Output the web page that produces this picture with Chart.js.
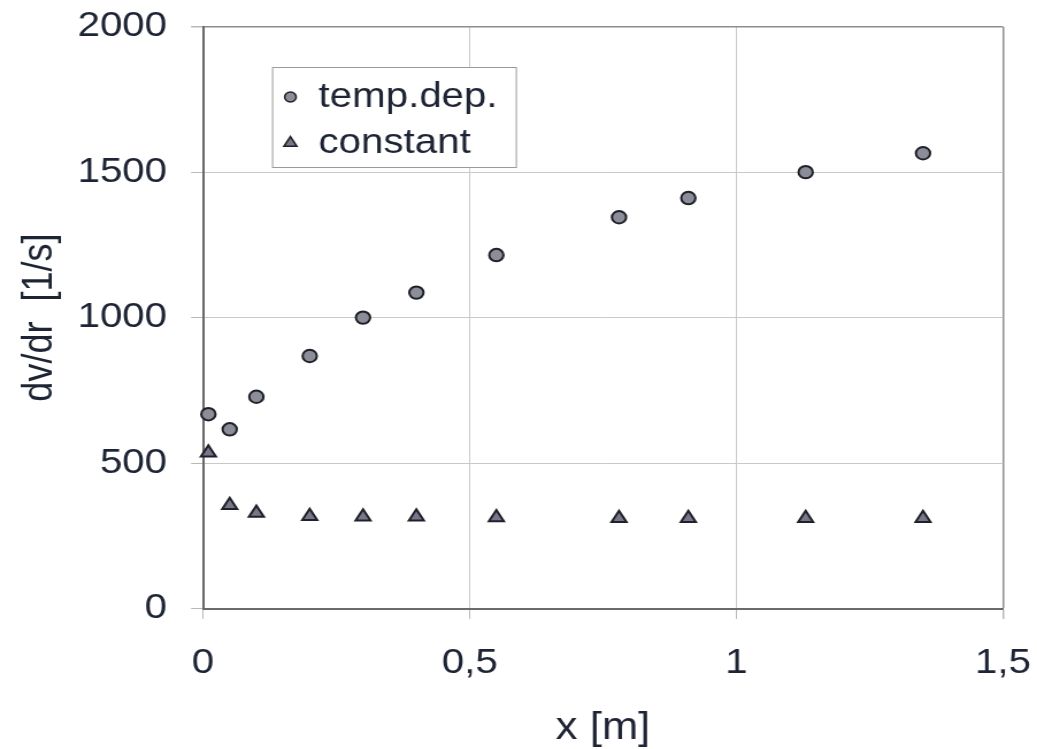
<!DOCTYPE html>
<html>
<head>
<meta charset="utf-8">
<script src="https://cdn.jsdelivr.net/npm/chart.js@4/dist/chart.umd.min.js"></script>
<style>
  html, body { margin: 0; padding: 0; background: #ffffff; overflow: hidden; }
  /* the figure is drawn on a narrower canvas and widened horizontally */
  #wrap { width: 902px; height: 749px; transform: scaleX(1.1497); transform-origin: 0 0; }
  canvas { display: block; }
</style>
</head>
<body>
<div id="wrap"><canvas id="chart" width="902" height="749"></canvas></div>
<script>
// distance along the pipe [m]
const xPositions = [0.01, 0.05, 0.1, 0.2, 0.3, 0.4, 0.55, 0.78, 0.91, 1.13, 1.35];
// shear rate dv/dr [1/s], temperature-dependent viscosity
const tempDep = [668, 616, 728, 868, 1000, 1086, 1215, 1345, 1411, 1500, 1565];
// shear rate dv/dr [1/s], constant viscosity
const constant = [535, 355, 328, 317, 315, 315, 313, 310, 310, 310, 310];
const seriesNames = ['temp.dep.', 'constant'];
const xTicks = [0, 0.5, 1, 1.5];
const yTicks = [0, 500, 1000, 1500, 2000];

const FONT = '"Liberation Sans", Arial, Helvetica, sans-serif';
const TEXT = '#1d2433';
const GRID = '#c9c9c9';
const FRAME = '#8e8e8e';
const AXIS = '#6a6a6a';

const toPoints = ys => xPositions.map((x, i) => ({ x: x, y: ys[i] }));

// legend box drawn inside the plot area
const insetLegend = {
  id: 'insetLegend',
  afterDatasetsDraw(chart, args, o) {
    const { ctx, chartArea } = chart;
    const left = chartArea.left + o.offsetX;
    const top = chartArea.top + o.offsetY;
    ctx.save();
    ctx.fillStyle = '#ffffff';
    ctx.fillRect(left, top, o.width, o.height);
    ctx.strokeStyle = o.borderColor;
    ctx.lineWidth = 1;
    ctx.strokeRect(left + 0.5, top + 0.5, o.width, o.height);
    chart.data.datasets.forEach((ds, i) => {
      const cy = top + o.rowY[i];
      const mx = left + o.markerX;
      const r = o.markerRadius[i];
      ctx.beginPath();
      if (ds.pointStyle === 'triangle') {
        ctx.moveTo(mx, cy - r);
        ctx.lineTo(mx + r * Math.sin(2 * Math.PI / 3), cy - r * Math.cos(2 * Math.PI / 3));
        ctx.lineTo(mx + r * Math.sin(4 * Math.PI / 3), cy - r * Math.cos(4 * Math.PI / 3));
        ctx.closePath();
      } else {
        ctx.arc(mx, cy, r, 0, Math.PI * 2);
      }
      ctx.fillStyle = ds.backgroundColor;
      ctx.fill();
      ctx.lineWidth = 1.5;
      ctx.strokeStyle = ds.borderColor;
      ctx.stroke();
      ctx.fillStyle = TEXT;
      ctx.font = o.fontSize + 'px ' + FONT;
      ctx.textBaseline = 'middle';
      ctx.textAlign = 'left';
      ctx.fillText(ds.label, left + o.textX, cy);
    });
    ctx.restore();
  }
};

new Chart(document.getElementById('chart'), {
  type: 'scatter',
  data: {
    datasets: [
      {
        label: seriesNames[0],
        data: toPoints(tempDep),
        pointStyle: 'circle',
        pointRadius: 6.2,
        pointBorderWidth: 2,
        backgroundColor: '#8b8d98',
        borderColor: '#202028',
        showLine: false,
        clip: false
      },
      {
        label: seriesNames[1],
        data: toPoints(constant),
        pointStyle: 'triangle',
        pointRadius: 7.5,
        pointBorderWidth: 2,
        backgroundColor: '#77778a',
        borderColor: '#202028',
        showLine: false,
        clip: false
      }
    ]
  },
  options: {
    responsive: false,
    maintainAspectRatio: false,
    devicePixelRatio: 1,
    animation: false,
    events: [],
    layout: { padding: { left: 0, top: 26.7, right: 29.6, bottom: 0 } },
    plugins: {
      legend: { display: false },
      tooltip: { enabled: false },
      insetLegend: {
        offsetX: 60, offsetY: 40.3, width: 212, height: 100,
        markerX: 16, textX: 40.5, rowY: [30, 76], markerRadius: [5, 6.5],
        fontSize: 35, borderColor: '#9a9a9a'
      }
    },
    scales: {
      x: {
        type: 'linear',
        position: 'bottom',
        min: xTicks[0],
        max: xTicks[xTicks.length - 1],
        afterBuildTicks: s => { s.ticks = xTicks.map(v => ({ value: v })); },
        afterFit: s => {
          s.height = 140.5;
          s.paddingLeft = 0;
          s.paddingRight = 0;
        },
        grid: {
          color: c => (c.tick && c.tick.value === xTicks[xTicks.length - 1]) ? FRAME : GRID,
          lineWidth: c => (c.tick && c.tick.value === xTicks[xTicks.length - 1]) ? 1.5 : 1,
          drawTicks: true,
          tickLength: 10.4,
          tickColor: '#b8b8b8'
        },
        border: { display: true, color: AXIS, width: 2 },
        ticks: {
          color: TEXT,
          padding: 23.6,
          font: { family: FONT, size: 35 },
          maxRotation: 0,
          callback: v => String(v).replace('.', ',')
        },
        title: {
          display: true,
          text: 'x [m]',
          color: TEXT,
          font: { family: FONT, size: 38 },
          padding: { top: 0, bottom: -2 }
        }
      },
      y: {
        type: 'linear',
        position: 'left',
        min: yTicks[0],
        max: yTicks[yTicks.length - 1],
        afterBuildTicks: s => { s.ticks = yTicks.map(v => ({ value: v })); },
        afterFit: s => {
          s.width = 176.6;
          s.paddingTop = 0;
          s.paddingBottom = 0;
        },
        grid: {
          color: c => (c.tick && c.tick.value === yTicks[yTicks.length - 1]) ? FRAME : GRID,
          lineWidth: c => (c.tick && c.tick.value === yTicks[yTicks.length - 1]) ? 1.5 : 1,
          drawTicks: true,
          tickLength: 10.4,
          tickColor: '#b8b8b8'
        },
        border: { display: true, color: AXIS, width: 2 },
        ticks: {
          color: TEXT,
          padding: 20.9,
          font: { family: FONT, size: 35 },
          callback: v => String(v)
        },
        title: {
          display: true,
          text: 'dv/dr  [1/s]',
          color: TEXT,
          font: { family: FONT, size: 36 },
          padding: { top: 13, bottom: 0 }
        }
      }
    }
  },
  plugins: [insetLegend]
});
</script>
</body>
</html>
